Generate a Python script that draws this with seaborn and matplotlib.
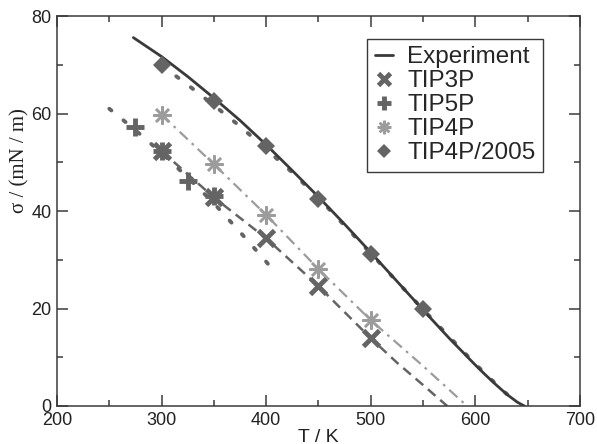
import matplotlib
matplotlib.use("Agg")
import matplotlib.pyplot as plt
import seaborn as sns
from matplotlib.ticker import MultipleLocator

# experiment (line)
t_exp = [273, 300, 325, 350, 375, 400, 425, 450, 475, 500, 525, 550, 575, 600, 610, 620, 630, 635, 640, 645, 647]
s_exp = [75.6, 71.7, 67.6, 63.2, 58.6, 53.6, 48.3, 42.9, 37.3, 31.5, 25.6, 19.7, 13.9, 8.4, 6.3, 4.3, 2.4, 1.6, 0.8, 0.2, 0.0]

# simulation points
t_tip3p = [300, 350, 400, 450, 500]
s_tip3p = [52.3, 42.8, 34.4, 24.6, 13.9]
t_tip5p = [275, 300, 325, 350]
s_tip5p = [57.2, 52.3, 46.2, 43.0]
t_tip4p = [300, 350, 400, 450, 500]
s_tip4p = [59.8, 49.6, 39.2, 28.1, 17.6]
t_2005 = [300, 350, 400, 450, 500, 550]
s_2005 = [69.9, 62.6, 53.3, 42.5, 31.2, 20.0]

# fitted curves
tf_tip3p = [300, 350, 400, 450, 500, 525, 550, 573]
sf_tip3p = [52.3, 42.8, 34.4, 24.6, 13.9, 8.9, 4.3, 0.0]
tf_tip5p = [250, 275, 300, 325, 350, 375, 400, 410]
sf_tip5p = [61.0, 56.6, 51.9, 46.9, 41.6, 35.7, 29.6, 27.0]
tf_tip4p = [300, 350, 400, 450, 500, 550, 592]
sf_tip4p = [59.8, 49.6, 39.2, 28.1, 17.6, 8.2, 0.0]
tf_2005 = [300, 325, 350, 375, 400, 425, 450, 500, 550, 600, 625, 640]
sf_2005 = [69.9, 65.9, 61.7, 57.4, 52.7, 47.9, 42.7, 31.3, 19.8, 8.6, 3.4, 0.6]

sns.set_style("ticks")
plt.rcParams['font.family'] = ['Liberation Sans', 'DejaVu Sans']

dark = '#3a3a3a'
mid = '#646464'
light = '#9c9c9c'

fig = plt.figure(figsize=(5.97, 4.44), dpi=100)
ax = fig.add_axes([0.0955, 0.0856, 0.876, 0.878])

# fit lines (no legend)
dots = (0, (0.7, 4.0))
sns.lineplot(x=tf_tip5p, y=sf_tip5p, ax=ax, color=mid, linestyle=dots,
             linewidth=2.8, dash_capstyle='round', estimator=None, sort=False, legend=False)
sns.lineplot(x=tf_2005, y=sf_2005, ax=ax, color=mid, linestyle=dots,
             linewidth=2.8, dash_capstyle='round', estimator=None, sort=False, legend=False)
sns.lineplot(x=tf_tip3p, y=sf_tip3p, ax=ax, color=mid, linestyle=(0, (4, 2.5)),
             linewidth=1.8, estimator=None, sort=False, legend=False)
sns.lineplot(x=tf_tip4p, y=sf_tip4p, ax=ax, color=light, linestyle=(0, (5, 2.5, 1.2, 2.5)),
             linewidth=1.6, estimator=None, sort=False, legend=False)

# experiment
sns.lineplot(x=t_exp, y=s_exp, ax=ax, color=dark, linewidth=2.0,
             estimator=None, sort=False, label='Experiment')

# symbols
sns.lineplot(x=t_tip3p, y=s_tip3p, ax=ax, color=mid, linestyle='', marker='x',
             markersize=11, mew=3.5, mec=mid, estimator=None, sort=False, label='TIP3P')
sns.lineplot(x=t_tip5p, y=s_tip5p, ax=ax, color=mid, linestyle='', marker='+',
             markersize=13, mew=3.5, mec=mid, estimator=None, sort=False, label='TIP5P')
sns.lineplot(x=t_tip4p, y=s_tip4p, ax=ax, color=light, linestyle='', marker=(8, 2, 0),
             markersize=13, mew=1.8, mec=light, estimator=None, sort=False, label='TIP4P')
sns.lineplot(x=t_2005, y=s_2005, ax=ax, color=mid, linestyle='', marker='D',
             markersize=9.5, mew=0, estimator=None, sort=False, label='TIP4P/2005')

ax.set_xlim(200, 700)
ax.set_ylim(0, 80)
ax.xaxis.set_major_locator(MultipleLocator(100))
ax.xaxis.set_minor_locator(MultipleLocator(50))
ax.yaxis.set_major_locator(MultipleLocator(20))
ax.yaxis.set_minor_locator(MultipleLocator(10))
ax.tick_params(which='both', direction='in', top=True, right=True,
               width=1.1, color=dark, labelsize=13, pad=4, labelcolor='#222222')
ax.tick_params(which='major', length=8)
ax.tick_params(which='minor', length=4.5)
for sp in ax.spines.values():
    sp.set_visible(True)
    sp.set_linewidth(1.1)
    sp.set_color(dark)

ax.set_xlabel('T / K', fontsize=14, labelpad=0, color='#222222')
ax.set_ylabel('σ / (mN / m)', fontsize=15, color='#222222',
              family=['Liberation Serif', 'DejaVu Serif'])
ax.yaxis.set_label_coords(-0.052, 0.63)

leg = ax.legend(loc='upper right', bbox_to_anchor=(0.929, 0.941), fontsize=17.5,
                frameon=True, fancybox=False, edgecolor=dark, framealpha=1,
                handlelength=0.75, handletextpad=0.6, labelspacing=0.08,
                borderpad=0.3, borderaxespad=0, markerscale=0.75)
leg.get_frame().set_linewidth(1.0)

plt.savefig('out.png', dpi=100)
plt.close()
